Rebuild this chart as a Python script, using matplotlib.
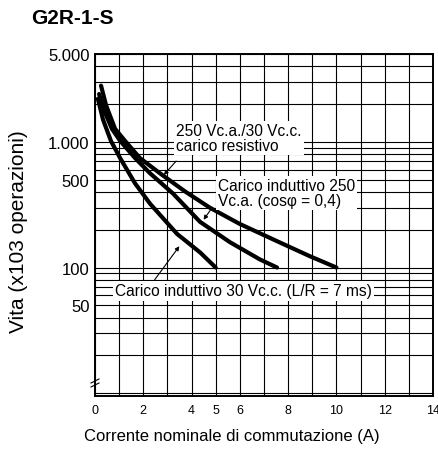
import numpy as np
import matplotlib.pyplot as plt
from matplotlib.ticker import FixedLocator, NullFormatter

plt.rcParams['font.family'] = ['Liberation Sans', 'DejaVu Sans']

# Curve data (current in A, life in x10^3 operations)
res_x = [0.25, 0.46, 0.83, 1.24, 1.86, 2.69, 3.73, 4.76, 6.0, 7.54, 8.9, 10.0]
res_y = [2800, 1950, 1270, 1020, 743, 562, 403, 299, 222, 162, 123, 100]

ind250_x = [0.17, 0.37, 0.70, 1.04, 1.66, 2.28, 3.23, 4.35, 5.59, 6.83, 7.54]
ind250_y = [2400, 1790, 1270, 1020, 743, 562, 388, 231, 159, 116, 100]

ind30_x = [0.12, 0.33, 0.66, 1.04, 1.66, 2.28, 3.40, 4.35, 5.0]
ind30_y = [2200, 1507, 1017, 743, 467, 322, 185, 132, 100]

x_ticks = [0, 2, 4, 5, 6, 8, 10, 12, 14]
y_ticks = [50, 100, 500, 1000, 5000]
y_tick_labels = ['50', '100', '500', '1.000', '5.000']

fig = plt.figure(figsize=(4.39, 4.52), dpi=100)
ax = fig.add_axes([95 / 439, 1 - 397 / 452, 338 / 439, 342 / 452])

ax.set_yscale('log')
ax.set_xlim(0, 14)
ax.set_ylim(9.5, 5000)

# grid: every ampere, log minor lines
ax.xaxis.set_major_locator(FixedLocator(x_ticks))
ax.xaxis.set_minor_locator(FixedLocator(range(1, 14)))
ax.set_xticklabels([str(t) for t in x_ticks])
ax.yaxis.set_major_locator(FixedLocator(y_ticks))
ax.set_yticklabels(y_tick_labels)
ygrid = [m * d for d in (10, 100, 1000) for m in range(1, 10) if 10 <= m * d <= 5000]
ax.yaxis.set_minor_locator(FixedLocator(ygrid))
ax.yaxis.set_minor_formatter(NullFormatter())
ax.grid(True, which='both', color='black', linewidth=0.8)
ax.tick_params(which='both', length=0)
ax.tick_params(axis='x', labelsize=9, pad=6)
ax.tick_params(axis='y', labelsize=12, pad=4)
for s in ax.spines.values():
    s.set_linewidth(1.4)

ax.plot(res_x, res_y, color='black', lw=3, solid_capstyle='round', zorder=3)
ax.plot(ind250_x, ind250_y, color='black', lw=3, solid_capstyle='round', zorder=3)
ax.plot(ind30_x, ind30_y, color='black', lw=3, solid_capstyle='round', zorder=3)


def frac(px, py):
    return ((px - 95) / 338, (397 - py) / 342)


box = dict(facecolor='white', edgecolor='none', pad=1.5)
arrow = dict(arrowstyle='-|>', color='black', lw=0.8, mutation_scale=6)

ax.text(*frac(176, 139), '250 Vc.a./30 Vc.c.\ncarico resistivo', transform=ax.transAxes,
        fontsize=11.2, va='center', ha='left', bbox=box, zorder=4, linespacing=1.05)
ax.annotate('', xy=frac(162, 178), xytext=frac(178, 160), xycoords='axes fraction',
            textcoords='axes fraction', arrowprops=arrow, zorder=4)

ax.text(*frac(218, 194), 'Carico induttivo 250\nVc.a. (cos\u03c6 = 0,4)', transform=ax.transAxes,
        fontsize=11.2, va='center', ha='left', bbox=box, zorder=4, linespacing=1.05)
ax.annotate('', xy=frac(202, 223), xytext=frac(214, 206), xycoords='axes fraction',
            textcoords='axes fraction', arrowprops=arrow, zorder=4)

ax.text(*frac(115, 292), 'Carico induttivo 30 Vc.c. (L/R = 7 ms)', transform=ax.transAxes,
        fontsize=11.2, va='center', ha='left', bbox=box, zorder=4)
ax.annotate('', xy=frac(181, 245), xytext=frac(153, 283), xycoords='axes fraction',
            textcoords='axes fraction', arrowprops=arrow, zorder=4)

# axis break mark
for dy in (0, 4):
    x0, y0 = frac(91, 388 - dy)
    x1, y1 = frac(99, 384 - dy)
    ax.plot([x0, x1], [y0, y1], transform=ax.transAxes, color='black', lw=0.8, clip_on=False)

fig.text(31 / 439, 1 - 19 / 452, 'G2R-1-S', fontsize=15, fontweight='bold', va='center', ha='left')
fig.text(19 / 439, 1 - 232 / 452, 'Vita (x103 operazioni)', fontsize=15, rotation=90,
         va='center', ha='center')
fig.text(232 / 439, 1 - 437 / 452, 'Corrente nominale di commutazione (A)', fontsize=12,
         va='center', ha='center')

fig.savefig('out.png', dpi=100)
